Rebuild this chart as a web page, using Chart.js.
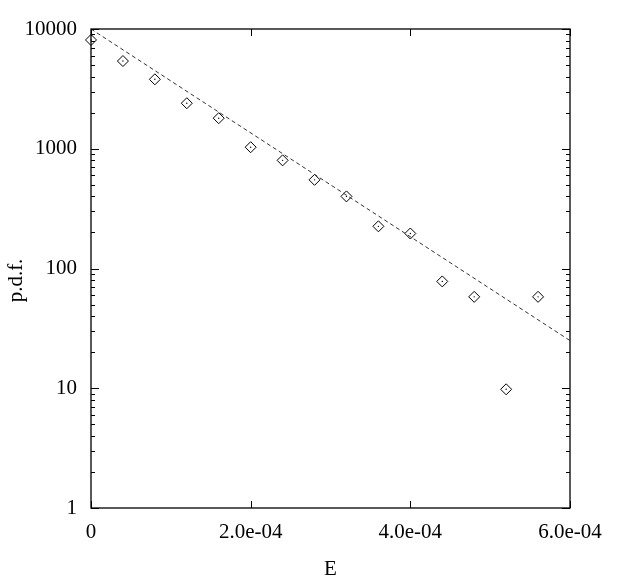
<!DOCTYPE html>
<html>
<head>
<meta charset="utf-8">
<script src="https://cdn.jsdelivr.net/npm/chart.js@4"></script>
<style>
  body { margin: 0; background: #fff; }
</style>
</head>
<body>
<canvas id="chart" width="623" height="582"></canvas>
<script>
// valeurs
const eValues = [0, 4e-5, 8e-5, 1.2e-4, 1.6e-4, 2.0e-4, 2.4e-4, 2.8e-4, 3.2e-4, 3.6e-4, 4.0e-4, 4.4e-4, 4.8e-4, 5.2e-4, 5.6e-4];
const pdfValues = [8100, 5400, 3800, 2400, 1800, 1030, 800, 550, 400, 225, 196, 78, 58, 9.8, 58];

// droite de fit (exponentielle -> droite en log)
const fitE = [0, 6e-4];
const fitPdf = [10000, 25];

const xTickValues = [0, 2e-4, 4e-4, 6e-4];
const xTickLabels = ['0', '2.0e-04', '4.0e-04', '6.0e-04'];
const yTickValues = [1, 10, 100, 1000, 10000];
const yTickLabels = ['1', '10', '100', '1000', '10000'];
const yTitle = 'p.d.f.';

const font = { family: "'Liberation Serif', 'DejaVu Serif', serif", size: 21 };

// cadre + petites graduations vers l'intérieur, façon gnuplot
const frameTicks = {
  id: 'frameTicks',
  afterDraw(chart) {
    const { ctx, chartArea, scales } = chart;
    const { left, right, top, bottom } = chartArea;
    ctx.save();
    ctx.strokeStyle = '#000';
    ctx.lineWidth = 1.3;
    ctx.strokeRect(left, top, right - left, bottom - top);
    ctx.lineWidth = 1;
    ctx.beginPath();
    xTickValues.forEach(v => {
      const px = Math.round(scales.x.getPixelForValue(v)) + 0.5;
      ctx.moveTo(px, bottom); ctx.lineTo(px, bottom - 7);
      ctx.moveTo(px, top); ctx.lineTo(px, top + 7);
    });
    for (let d = 1; d < 10000; d *= 10) {
      for (let m = 1; m <= 10; m++) {
        const py = Math.round(scales.y.getPixelForValue(d * m)) + 0.5;
        const len = (m === 1 || m === 10) ? 8 : 4;
        ctx.moveTo(left, py); ctx.lineTo(left + len, py);
        ctx.moveTo(right, py); ctx.lineTo(right - len, py);
      }
    }
    ctx.stroke();

    // titre de l'axe y, un peu plus bas que le centre comme sur l'original
    ctx.translate(16, (top + bottom) / 2 + 12);
    ctx.rotate(-Math.PI / 2);
    ctx.fillStyle = '#000';
    ctx.font = font.size + 'px ' + font.family;
    ctx.textAlign = 'center';
    ctx.textBaseline = 'middle';
    ctx.fillText(yTitle, 0, 0);
    ctx.restore();
  }
};

new Chart(document.getElementById('chart'), {
  type: 'scatter',
  data: {
    datasets: [
      {
        label: 'fit',
        type: 'line',
        data: fitE.map((e, i) => ({ x: e, y: fitPdf[i] })),
        borderColor: '#333',
        borderWidth: 1,
        borderDash: [4, 3],
        pointRadius: 0,
        fill: false
      },
      {
        label: 'p.d.f.',
        data: eValues.map((e, i) => ({ x: e, y: pdfValues[i] })),
        pointStyle: 'rectRot',
        pointRadius: 5.5,
        borderColor: '#000',
        borderWidth: 1,
        backgroundColor: 'rgba(255,255,255,0)',
        clip: false
      },
      {
        // le petit point au centre des losanges
        label: 'centres',
        data: eValues.map((e, i) => ({ x: e, y: pdfValues[i] })),
        pointRadius: 0.7,
        borderWidth: 0,
        backgroundColor: '#000',
        clip: false
      }
    ]
  },
  options: {
    responsive: false,
    animation: false,
    layout: { padding: { top: 29, right: 53, left: 0, bottom: 0 } },
    plugins: {
      legend: { display: false },
      tooltip: { enabled: false }
    },
    scales: {
      x: {
        type: 'linear',
        min: 0,
        max: 6e-4,
        grid: { display: false, drawTicks: false },
        border: { display: false },
        afterBuildTicks: scale => { scale.ticks = xTickValues.map(v => ({ value: v })); },
        afterFit: scale => { scale.height = 74; },
        ticks: {
          padding: 12,
          color: '#000',
          font: font,
          maxRotation: 0,
          callback: (value, index) => xTickLabels[index]
        },
        title: { display: true, text: 'E', color: '#000', font: font, padding: { top: 7, bottom: 0 } }
      },
      y: {
        type: 'logarithmic',
        min: 1,
        max: 10000,
        grid: { display: false, drawTicks: false },
        border: { display: false },
        afterBuildTicks: scale => { scale.ticks = yTickValues.map(v => ({ value: v })); },
        afterFit: scale => { scale.width = 91; },
        ticks: {
          padding: 14,
          color: '#000',
          font: font,
          callback: (value, index) => yTickLabels[index]
        },
        title: { display: false }
      }
    }
  },
  plugins: [frameTicks]
});
</script>
</body>
</html>
